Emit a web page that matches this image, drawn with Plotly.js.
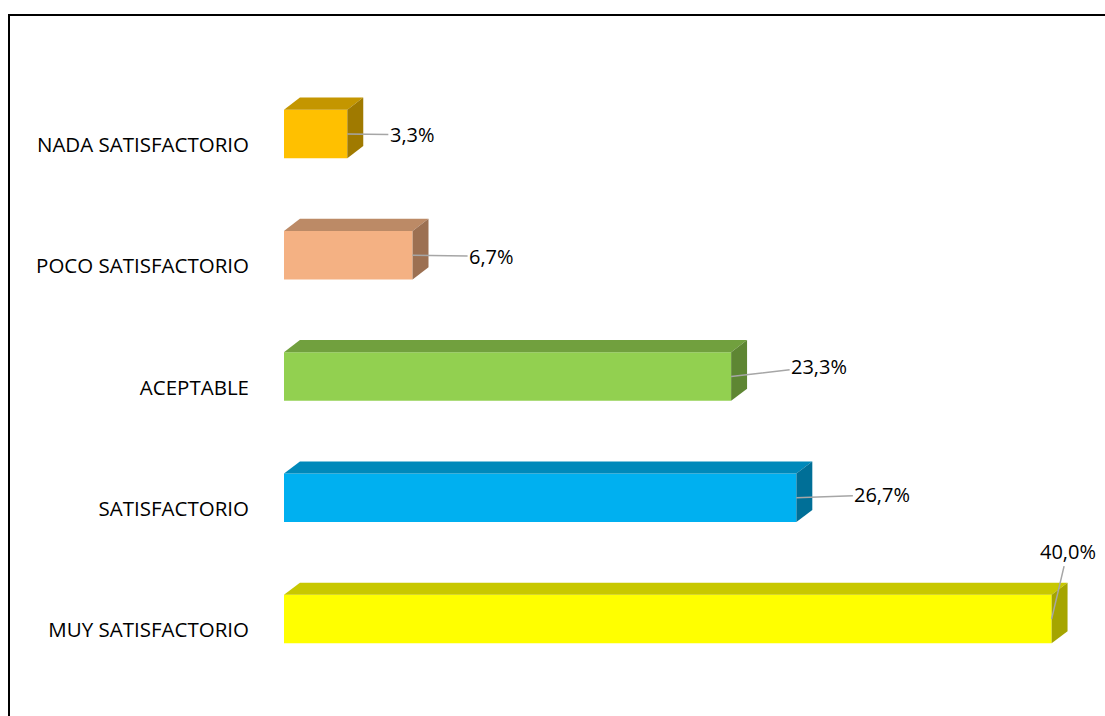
<!DOCTYPE html>
<html>
<head>
<meta charset="utf-8">
<script src="https://cdn.plot.ly/plotly-3.0.1.min.js"></script>
<style>
  html, body { margin: 0; padding: 0; background: #fff; }
  #wrap { position: relative; width: 1105px; height: 716px; }
  #chart { width: 1105px; height: 716px; }
  #frame { position: absolute; left: 8px; top: 14px; width: 1110px; height: 720px;
           border-left: 2px solid #000; border-top: 2px solid #000; pointer-events: none; }
</style>
</head>
<body>
<div id="wrap">
  <div id="chart"></div>
  <div id="frame"></div>
</div>
<script>
// ---- data ----
const categories = ["NADA SATISFACTORIO", "POCO SATISFACTORIO", "ACEPTABLE", "SATISFACTORIO", "MUY SATISFACTORIO"];
const values = [3.3, 6.7, 23.3, 26.7, 40.0];

// ---- styles ----
const frontColors = ["#FFC000", "#F4B183", "#92D050", "#00B0F0", "#FFFF00"];
const topColors   = ["#C49600", "#BC8A66", "#71A03E", "#0089BA", "#C8C800"];
const sideColors  = ["#A07A00", "#9C7052", "#5E8633", "#006F97", "#A5A500"];
const barWidth = 0.4;
const depthX = 0.83;   // depth in x-axis units
const depthY = 0.1;    // depth in y-axis units
const labelOffsets = [[65, 1], [79, 1], [88, -10], [86, -3], [16, -68]];
const fontFam = "'Open Sans', Lato, sans-serif";

const idx = categories.map((c, i) => i);
const traces = [];

traces.push({
  type: "bar", orientation: "h",
  x: values, y: idx, width: barWidth,
  marker: { color: frontColors, line: { width: 0 } },
  hoverinfo: "skip", showlegend: false
});

values.forEach((v, i) => {
  const yt = i - barWidth / 2, yb = i + barWidth / 2;
  // top face
  traces.push({
    type: "scatter", mode: "lines", fill: "toself",
    x: [0, depthX, v + depthX, v, 0],
    y: [yt, yt - depthY, yt - depthY, yt, yt],
    fillcolor: topColors[i], line: { width: 0, color: topColors[i] },
    hoverinfo: "skip", showlegend: false
  });
  // side face
  traces.push({
    type: "scatter", mode: "lines", fill: "toself",
    x: [v, v + depthX, v + depthX, v, v],
    y: [yt, yt - depthY, yb - depthY, yb, yt],
    fillcolor: sideColors[i], line: { width: 0, color: sideColors[i] },
    hoverinfo: "skip", showlegend: false
  });
});

const annotations = values.map((v, i) => ({
  x: v, y: i, xref: "x", yref: "y",
  text: v.toFixed(1).replace(".", ",") + "%",
  showarrow: true, arrowhead: 0, arrowwidth: 1.5, arrowcolor: "#A6A6A6",
  ax: labelOffsets[i][0], ay: labelOffsets[i][1],
  font: { family: fontFam, size: 20, color: "#000" }
}));

const layout = {
  width: 1105, height: 716,
  margin: { l: 284, r: 15, t: 43, b: 6 },
  paper_bgcolor: "#fff", plot_bgcolor: "#fff",
  showlegend: false,
  xaxis: { range: [0, 42], visible: false, showgrid: false, zeroline: false, fixedrange: true },
  yaxis: {
    range: [4.75, -0.75], tickvals: idx, ticktext: categories,
    showgrid: false, zeroline: false, showline: false, ticks: "",
    ticklabelstandoff: 34, ticklabelshift: -11,
    tickfont: { family: fontFam, size: 20.5, color: "#000" }, fixedrange: true
  },
  annotations: annotations
};

Plotly.newPlot("chart", traces, layout, { displayModeBar: false, staticPlot: true });
</script>
</body>
</html>
